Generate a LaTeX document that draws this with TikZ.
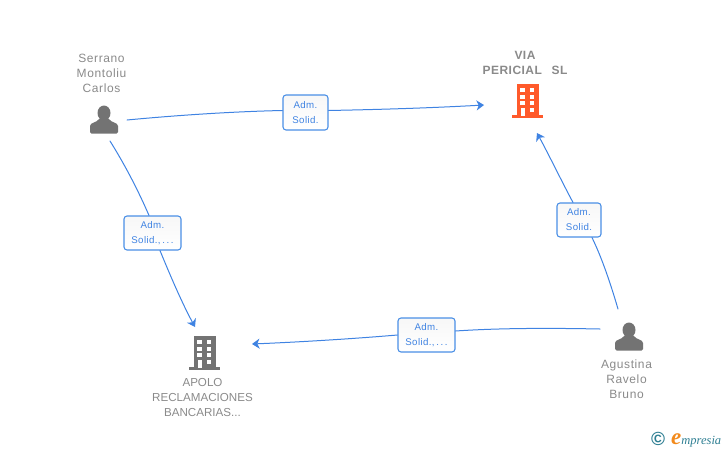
\documentclass[tikz,border=0pt]{standalone}
\usepackage{fontspec}
\setmainfont{Liberation Sans}
\newfontfamily\widefont[LetterSpace=5]{Liberation Sans}
\newfontfamily\widebold[LetterSpace=4,BoldFont={Liberation Sans Bold}]{Liberation Sans}
\newfontfamily\boxfont[LetterSpace=4]{Liberation Sans}
\newfontfamily\logofont{Liberation Serif}
\usetikzlibrary{arrows.meta}
\definecolor{linkblue}{HTML}{3F83E2}
\definecolor{boxblue}{HTML}{4A8FE6}
\definecolor{labelgrey}{HTML}{8A8A8A}
\definecolor{icongrey}{HTML}{737373}
\definecolor{iconred}{HTML}{FF5A2B}
\definecolor{logoteal}{HTML}{2F7F93}
\definecolor{logoorange}{HTML}{F28A1C}
\tikzset{
  rolebox/.style={draw=boxblue, line width=1.1pt, rounded corners=3pt, top color=black!3, bottom color=white, text=linkblue, font=\boxfont\fontsize{9.7}{15}\selectfont, align=center, inner sep=0pt},
  namelabel/.style={text=labelgrey, font=\widefont\fontsize{12}{15}\selectfont, align=center, inner sep=0pt},
  firmlabel/.style={namelabel, font=\fontsize{11.6}{15}\selectfont},
  boldlabel/.style={namelabel, font=\widebold\fontsize{12}{15}\selectfont\bfseries},
  link/.style={draw=linkblue, line width=1pt},
  linkarrow/.style={link, ->, >={Stealth[length=7.5pt,width=10pt,inset=2.2pt]}},
  pics/person/.style={code={
    \fill[icongrey] (0,-7) circle[x radius=6.5, y radius=7.5];
    \fill[icongrey, rounded corners=1.5pt] (-14,13.5) -- (-14,7.5) .. controls (-14,2.5) and (-7,2.5) .. (-4.5,-2) -- (4.5,-2) .. controls (7,2.5) and (14,2.5) .. (14,7.5) -- (14,13.5) -- cycle;
  }},
  pics/tower/.style={code={
    \fill[#1] (-11,-17) rectangle (11,14);
    \fill[#1] (-15.5,14) rectangle (15.5,17);
    \foreach \wx in {-5,4.5}\foreach \wy in {-11,-4.5,2}
      \fill[white] (\wx-2.2,\wy-2) rectangle (\wx+2.2,\wy+2);
    \fill[white] (4.5-2.4,7) rectangle (4.5+2.4,11);
    \fill[white] (-5-2,7) rectangle (-5+2,15);
  }}
}
\begin{document}
\begin{tikzpicture}[x=1pt, y=-1pt, line join=round, line cap=round]
  \useasboundingbox (0,0) rectangle (728,450);
  % icons and names
  \coordinate (serranoicon) at (104,120);
  \coordinate (viaicon) at (527.5,101);
  \coordinate (apoloicon) at (204.5,353);
  \coordinate (agustinaicon) at (629,337);
  \pic at (serranoicon) {person};
  \pic at (viaicon) {tower=iconred};
  \pic at (apoloicon) {tower=icongrey};
  \pic at (agustinaicon) {person};
  \node[namelabel] (serrano) at (101.5,73) {Serrano\\Montoliu\\Carlos};
  \node[boldlabel] (via) at (525,62.5) {VIA\\PERICIAL\ \ \,SL};
  \node[firmlabel] (apolo) at (202.5,397.5) {APOLO\\RECLAMACIONES\\BANCARIAS...};
  \node[namelabel] (agustina) at (626.5,379.5) {Agustina\\Ravelo\\Bruno};
  % role boxes
  \node[rolebox, minimum width=45pt, minimum height=35pt] (roleA) at (305.5,112.5) {Adm.\\Solid.};
  \node[rolebox, minimum width=57pt, minimum height=34pt] (roleB) at (152.5,233) {Adm.\\Solid.,\,.\,.\,.};
  \node[rolebox, minimum width=44pt, minimum height=34pt] (roleC) at (579,220) {Adm.\\Solid.};
  \node[rolebox, minimum width=57pt, minimum height=34pt] (roleD) at (426.5,335) {Adm.\\Solid.,\,.\,.\,.};
  % free ends of the connectors
  \coordinate (startA) at (127,120);
  \coordinate (tipA) at (484,105);
  \coordinate (startB) at (110,141);
  \coordinate (tipB) at (195,327);
  \coordinate (startC) at (618,309);
  \coordinate (tipC) at (537,133);
  \coordinate (startD) at (600,329);
  \coordinate (tipD) at (252,344);
  % connectors
  \draw[link] (startA) .. controls (180,115) and (235,111.5) .. ([yshift=2pt]roleA.west);
  \draw[linkarrow] ([yshift=2pt]roleA.east) .. controls (380,109.5) and (430,108) .. (tipA);
  \draw[link] (startB) .. controls (125,165) and (138,190) .. ([xshift=-3.5pt]roleB.north);
  \draw[linkarrow] ([xshift=7.5pt]roleB.south) .. controls (170,275) and (182,303) .. (tipB);
  \draw[link] (startC) .. controls (611,285) and (602,258) .. ([xshift=13pt]roleC.south);
  \draw[linkarrow] ([xshift=-6pt]roleC.north) .. controls (562,182) and (549,155) .. (tipC);
  \draw[link] (startD) .. controls (550,328) and (500,328) .. ([yshift=4pt]roleD.east);
  \draw[linkarrow] (roleD.west) .. controls (350,339) and (300,342) .. (tipD);
  % logo
  \node[text=logoteal, inner sep=0pt, font=\bfseries\fontsize{19}{19}\selectfont] (logomark) at (658,438.5) {\textcopyright};
  \node[inner sep=0pt, anchor=base west, font=\logofont\itshape\fontsize{12.5}{15}\selectfont, text=logoteal] (logotext) at (671,444) {{\color{logoorange}\bfseries\fontsize{23}{25}\selectfont e}mpresia};
\end{tikzpicture}
\end{document}
